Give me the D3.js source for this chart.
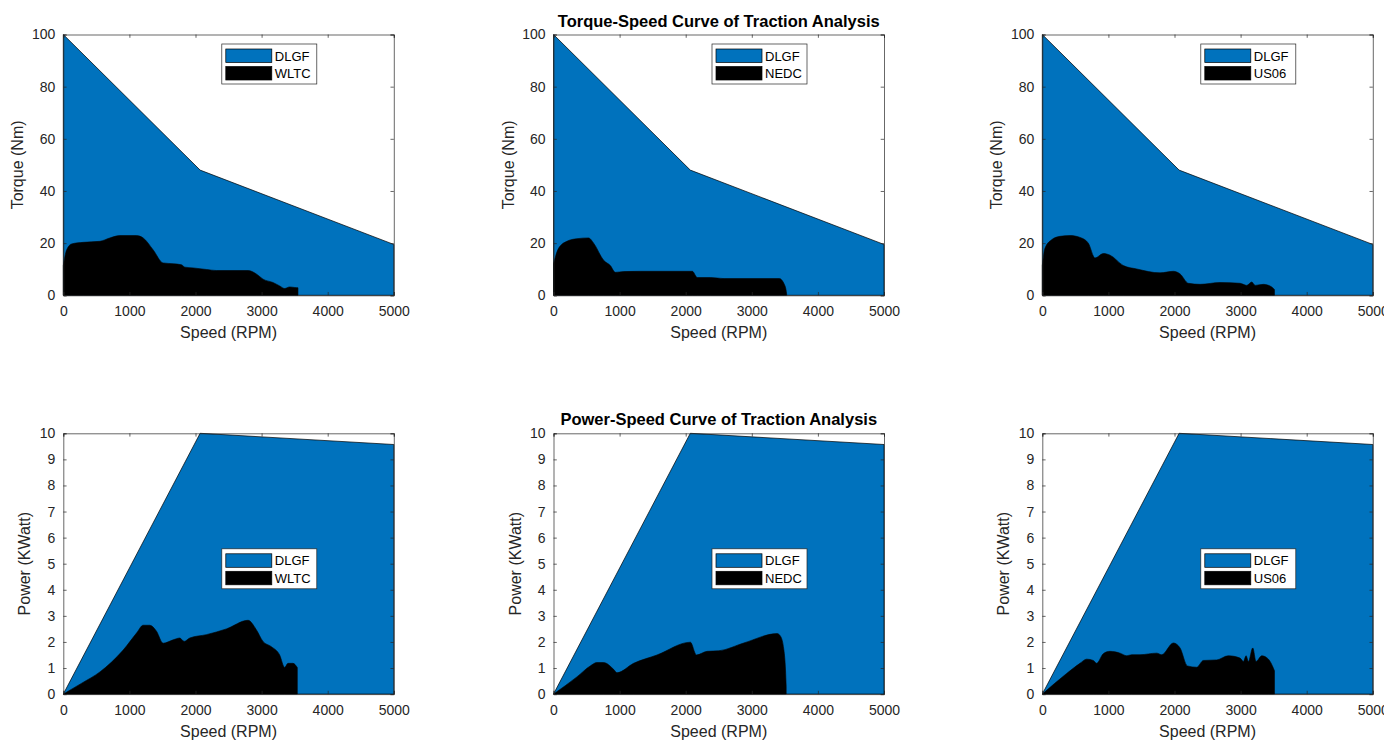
<!DOCTYPE html>
<html>
<head>
<meta charset="utf-8">
<script src="https://cdn.jsdelivr.net/npm/d3@7"></script>
<style>
  body { margin: 0; background: #fff; }
  svg { display: block; font-family: "Liberation Sans", Arial, Helvetica, sans-serif; }
</style>
</head>
<body>
<svg id="chart" width="1384" height="741"></svg>
<script>
// enveloppe DLGF
const envTorqueRpm = [0, 0, 2070, 5000, 5000];
const envTorque = [0, 100, 48, 19.5, 0];
const envPowerRpm = [0, 2070, 5000, 5000];
const envPower = [0, 10, 9.57, 0];

// cycles - couple (Nm)
const wltcTorqueRpm = [0, 50, 126, 302, 554, 705, 856, 1108, 1208, 1360, 1510, 1662, 1788, 1838, 1964, 2165, 2316, 2795, 2920, 3021, 3172, 3273, 3349, 3424, 3500, 3550];
const wltcTorque = [11.4, 17.4, 19.7, 20.3, 20.7, 22, 22.9, 22.9, 22, 17.4, 12.4, 12.1, 11.7, 10.8, 10.5, 9.9, 9.5, 9.5, 8.2, 6.2, 4.9, 3.6, 2.6, 3.2, 3.0, 2.9];
const nedcTorqueRpm = [0, 76, 202, 354, 531, 607, 759, 860, 936, 1063, 1316, 2100, 2176, 2378, 2581, 3416, 3492, 3517, 3527];
const nedcTorque = [12.1, 18, 20.7, 21.7, 22, 20, 13.4, 11.4, 8.8, 9.1, 9.2, 9.2, 6.8, 6.8, 6.4, 6.4, 4.2, 2.2, 0.5];
const us06TorqueRpm = [0, 40, 141, 267, 419, 570, 696, 797, 923, 1024, 1226, 1428, 1781, 1983, 2084, 2210, 2386, 2689, 2992, 3093, 3169, 3219, 3345, 3471, 3512];
const us06Torque = [11.4, 18, 21.3, 22.6, 22.9, 22.2, 20, 14.3, 16, 15.4, 11.4, 10.1, 8.6, 9.2, 8.2, 4.6, 4.2, 4.9, 4.6, 3.8, 5.1, 3.8, 4.2, 3.2, 2.2];

// cycles - puissance (kW)
const wltcPowerRpm = [0, 280, 554, 906, 1108, 1208, 1309, 1410, 1510, 1662, 1762, 1828, 1913, 2165, 2467, 2795, 2920, 3021, 3147, 3273, 3349, 3399, 3474, 3540];
const wltcPower = [0, 0.42, 0.85, 1.69, 2.34, 2.64, 2.64, 2.41, 1.95, 2.08, 2.15, 2.02, 2.15, 2.28, 2.5, 2.83, 2.47, 2.02, 1.82, 1.5, 1.02, 1.18, 1.18, 1.02];
const nedcPowerRpm = [0, 354, 556, 657, 758, 909, 960, 1212, 1566, 2071, 2162, 2323, 2500, 2879, 3384, 3434, 3485, 3510, 3520];
const nedcPower = [0, 0.66, 1.08, 1.21, 1.21, 0.95, 0.82, 1.18, 1.5, 1.99, 1.5, 1.64, 1.66, 1.96, 2.32, 2.22, 1.7, 0.92, 0.3];
const us06PowerRpm = [0, 368, 570, 671, 772, 822, 923, 1024, 1176, 1277, 1352, 1478, 1731, 1806, 1983, 2084, 2195, 2336, 2437, 2639, 2815, 2992, 3042, 3083, 3118, 3184, 3234, 3320, 3421, 3497, 3512];
const us06Power = [0, 0.79, 1.18, 1.34, 1.29, 1.18, 1.55, 1.64, 1.57, 1.47, 1.51, 1.51, 1.57, 1.51, 1.96, 1.77, 1.08, 1.03, 1.29, 1.31, 1.47, 1.38, 1.25, 1.47, 1.25, 1.77, 1.25, 1.47, 1.34, 0.99, 0.9];

const xTicks = [0, 1000, 2000, 3000, 4000, 5000];
const torqueTicks = [0, 20, 40, 60, 80, 100];
const powerTicks = [0, 1, 2, 3, 4, 5, 6, 7, 8, 9, 10];
const cycleNames = ["WLTC", "NEDC", "US06"];

const blue = "#0072BD";
const axisColor = "#262626";

const svg = d3.select("#chart");

const lefts = [63.3, 553.5, 1042.3];
const tops = [34.5, 433.3];
const w = 330.5, h = 260.8;

const rows = [
  {
    env: [envTorqueRpm, envTorque],
    cycles: [[wltcTorqueRpm, wltcTorque], [nedcTorqueRpm, nedcTorque], [us06TorqueRpm, us06Torque]],
    yMax: 100, yTicks: torqueTicks, yLabel: "Torque (Nm)",
    title: "Torque-Speed Curve of Traction Analysis", legendY: 9.5
  },
  {
    env: [envPowerRpm, envPower],
    cycles: [[wltcPowerRpm, wltcPower], [nedcPowerRpm, nedcPower], [us06PowerRpm, us06Power]],
    yMax: 10, yTicks: powerTicks, yLabel: "Power (KWatt)",
    title: "Power-Speed Curve of Traction Analysis", legendY: 115.5
  }
];

rows.forEach((row, r) => {
  lefts.forEach((left, c) => {
    const g = svg.append("g").attr("transform", `translate(${left},${tops[r]})`);
    const x = d3.scaleLinear().domain([0, 5000]).range([0, w]);
    const y = d3.scaleLinear().domain([0, row.yMax]).range([h, 0]);

    // enveloppe bleue
    const envPts = row.env[0].map((v, i) => [x(v), y(row.env[1][i])]);
    g.append("path")
      .attr("d", d3.line()(envPts) + "Z")
      .attr("fill", blue)
      .attr("stroke", "#000")
      .attr("stroke-width", 0.7);

    // zone du cycle
    const [cx, cy] = row.cycles[c];
    const pts = cx.map((v, i) => ({ s: v, t: cy[i] }));
    g.append("path")
      .datum(pts)
      .attr("d", d3.area()
        .x(d => x(d.s))
        .y0(y(0))
        .y1(d => y(d.t))
        .curve(d3.curveMonotoneX))
      .attr("fill", "#000")
      .attr("stroke", "#000")
      .attr("stroke-width", 0.6);

    // axes
    const tickLen = 3.3;
    g.append("g").attr("transform", `translate(0,${h})`)
      .call(d3.axisBottom(x).tickValues(xTicks).tickSize(-tickLen).tickPadding(11).tickFormat(d3.format("d")));
    g.append("g")
      .call(d3.axisTop(x).tickValues(xTicks).tickSize(-tickLen).tickFormat(""));
    g.append("g")
      .call(d3.axisLeft(y).tickValues(row.yTicks).tickSize(-tickLen).tickPadding(8).tickFormat(d3.format("d")));
    g.append("g").attr("transform", `translate(${w},0)`)
      .call(d3.axisRight(y).tickValues(row.yTicks).tickSize(-tickLen).tickFormat(""));
    g.selectAll(".domain").attr("stroke", axisColor).attr("stroke-width", 0.7);
    g.selectAll(".tick line").attr("stroke", axisColor).attr("stroke-width", 0.7);
    g.selectAll(".tick text").attr("fill", axisColor).style("font-size", "14px")
      .style("font-family", "'Liberation Sans', Arial, sans-serif");

    // labels
    g.append("text")
      .attr("x", w / 2).attr("y", h + 43)
      .attr("text-anchor", "middle")
      .attr("fill", axisColor)
      .style("font-size", "16px")
      .text("Speed (RPM)");
    g.append("text")
      .attr("transform", `translate(${r === 0 ? -40 : -33},${h / 2}) rotate(-90)`)
      .attr("text-anchor", "middle")
      .attr("fill", axisColor)
      .style("font-size", "16px")
      .text(row.yLabel);

    if (c === 1) {
      g.append("text")
        .attr("x", w / 2).attr("y", -8)
        .attr("text-anchor", "middle")
        .attr("fill", "#000")
        .style("font-size", "16.5px")
        .style("font-weight", "bold")
        .text(row.title);
    }

    // légende
    const lg = g.append("g").attr("transform", `translate(158.5,${row.legendY})`);
    lg.append("rect").attr("width", 95).attr("height", 40)
      .attr("fill", "#fff").attr("stroke", axisColor).attr("stroke-width", 0.7);
    [["DLGF", blue], [cycleNames[c], "#000"]].forEach(([name, col], i) => {
      lg.append("rect")
        .attr("x", 4).attr("y", 5 + i * 17.5)
        .attr("width", 46).attr("height", 13.5)
        .attr("fill", col).attr("stroke", "#000").attr("stroke-width", 0.7);
      lg.append("text")
        .attr("x", 53).attr("y", 16.5 + i * 17.5)
        .attr("fill", "#000")
        .style("font-size", "13px")
        .text(name);
    });
  });
});
</script>
</body>
</html>
